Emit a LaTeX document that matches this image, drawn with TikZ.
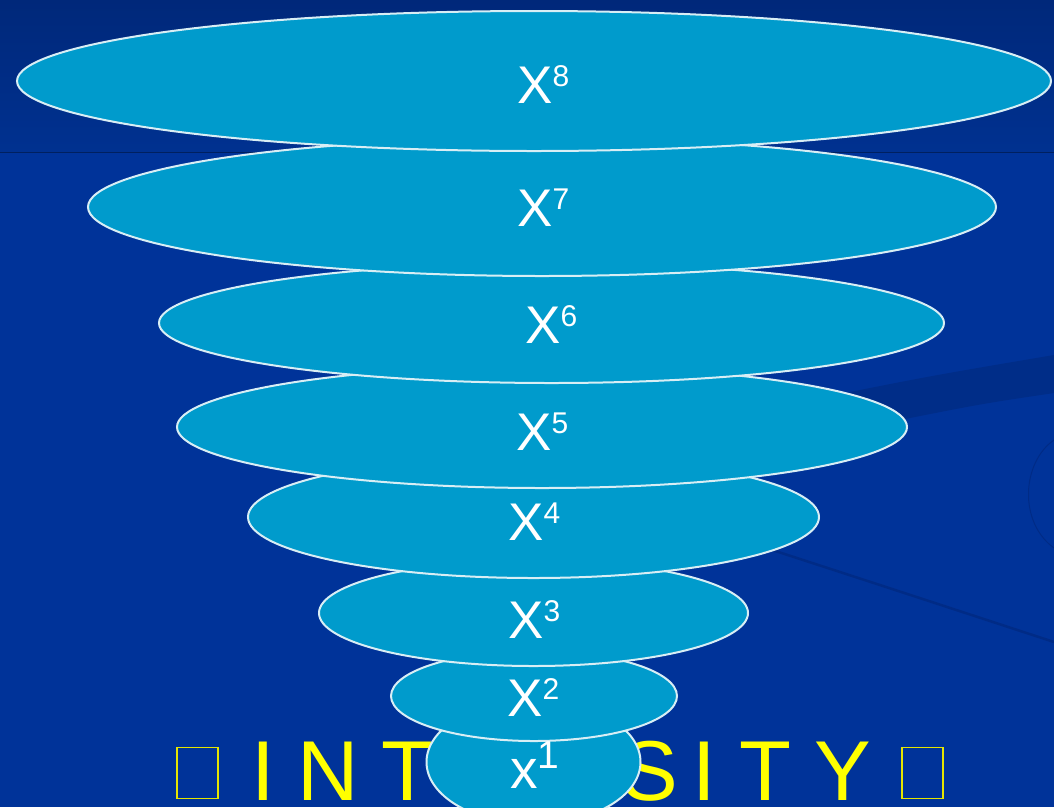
\documentclass[tikz,border=0pt]{standalone}
\usepackage{fontspec}
\setmainfont{Liberation Sans}
\usetikzlibrary{shapes.geometric}
\definecolor{bg}{HTML}{003399}
\definecolor{bgtop}{HTML}{00287A}
\definecolor{bgmid}{HTML}{003190}
\definecolor{bgline}{HTML}{002060}
\definecolor{discc}{HTML}{009BCC}
\definecolor{rimc}{HTML}{D8EEF5}
\definecolor{bandc}{HTML}{002D88}
\definecolor{decoc}{HTML}{002B86}
\definecolor{yel}{HTML}{FFFF00}
\newcommand{\pwlabel}[1]{{\fontsize{53}{53}\selectfont X}\raisebox{17pt}{\fontsize{30}{30}\selectfont #1}}
\tikzset{
  disc/.style={ellipse, draw=rimc, line width=2pt, fill=discc, inner sep=0pt},
  lbl/.style={text=white, anchor=base west, inner sep=0pt},
  ylet/.style={text=yel, anchor=base west, inner sep=0pt, font=\fontsize{85}{85}\selectfont},
  tofu/.style={draw=yel!90!black, line width=1.1pt, minimum width=41pt, minimum height=51pt, inner sep=0pt},
  deco/.style={draw=decoc, line width=2.5pt}
}
\begin{document}
\begin{tikzpicture}[x=1pt,y=-1pt]
\useasboundingbox (0,0) rectangle (1054,807);
% background
\fill[bg] (0,0) rectangle (1054,807);
\shade[top color=bgtop, bottom color=bgmid] (0,0) rectangle (1054,152);
\draw[bgline, line width=1pt] (0,152.5) -- (1054,152.5);
% faint background decorations
\fill[bandc] (820,398) .. controls (930,376) .. (1054,355) -- (1054,393) .. controls (980,404) .. (880,424) -- cycle;
\draw[deco, line width=1pt] (1054,440) .. controls (1022,462) and (1018,522) .. (1054,548);
\draw[deco] (760,546) .. controls (880,585) .. (1054,642);
% yellow text (the middle letters are hidden behind the smallest disc)
\node[tofu] (b1) at (197.5,773) {};
\node[ylet] (l1) at (251,800) {I};
\node[ylet] (l2) at (297.5,800) {N};
\node[ylet] (l3) at (381,800) {T};
\node[ylet] (l6) at (621,800) {S};
\node[ylet] (l7) at (692,800) {I};
\node[ylet] (l8) at (739,800) {T};
\node[ylet] (l9) at (814,800) {Y};
\node[tofu] (b2) at (922.5,773) {};
% discs, smallest first
\node[disc, minimum width=214pt, minimum height=124pt] (e1) at (533.5,762) {};
\node[disc, minimum width=286pt, minimum height=90pt] (e2) at (534,696) {};
\node[disc, minimum width=429pt, minimum height=106pt] (e3) at (533.5,613) {};
\node[disc, minimum width=571pt, minimum height=122pt] (e4) at (533.5,517) {};
\node[disc, minimum width=730pt, minimum height=122pt] (e5) at (542,427) {};
\node[disc, minimum width=785pt, minimum height=120pt] (e6) at (551.5,323) {};
\node[disc, minimum width=908pt, minimum height=138pt] (e7) at (542,207) {};
\node[disc, minimum width=1034pt, minimum height=140pt] (e8) at (534,81) {};
% labels
\node[lbl] (t8) at (517,103) {\pwlabel{8}};
\node[lbl] (t7) at (517,226) {\pwlabel{7}};
\node[lbl] (t6) at (525,343) {\pwlabel{6}};
\node[lbl] (t5) at (516,450) {\pwlabel{5}};
\node[lbl] (t4) at (508,540) {\pwlabel{4}};
\node[lbl] (t3) at (508,638) {\pwlabel{3}};
\node[lbl] (t2) at (507,716) {\pwlabel{2}};
\node[lbl] (t1) at (510,788) {{\fontsize{55}{55}\selectfont x}\raisebox{20pt}{\fontsize{39}{39}\selectfont 1}};
\end{tikzpicture}
\end{document}
